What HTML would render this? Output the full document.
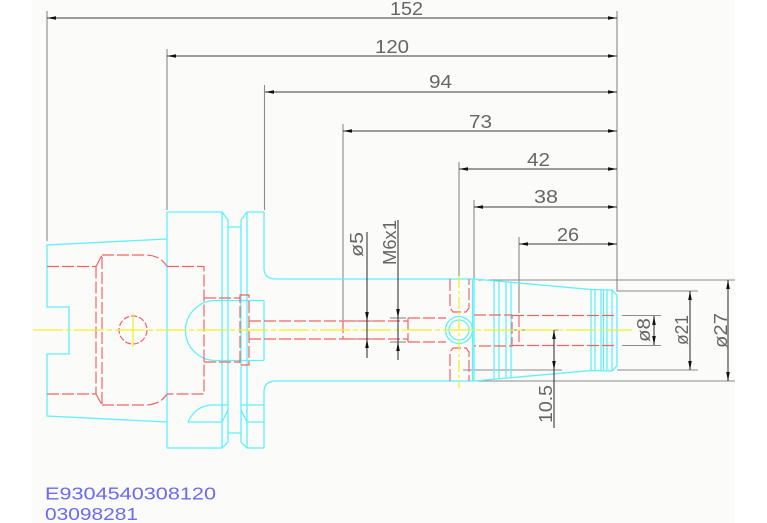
<!DOCTYPE html>
<html><head><meta charset="utf-8"><style>
html,body{margin:0;padding:0;background:#fff;}
svg{display:block;}
text{font-family:"Liberation Sans",sans-serif;}
</style></head><body>
<svg width="767" height="523" viewBox="0 0 767 523" xmlns="http://www.w3.org/2000/svg">
<rect x="0" y="0" width="767" height="523" fill="#ffffff"/>
<rect x="31" y="0" width="704" height="523" fill="#fbfcfa"/>

<!-- extension lines -->
<g stroke="#8a8a8a" stroke-width="1.1" fill="none">
  <path d="M47,11 L47,241"/>
  <path d="M167,49 L167,210"/>
  <path d="M264.5,85 L264.5,210"/>
  <path d="M343,124 L343,320"/>
  <path d="M459,162 L459,276"/>
  <path d="M474,200 L474,279"/>
  <path d="M519,237 L519,313"/>
  <path d="M617,11 L617,291 L698,291"/>
  <path d="M617,370 L698,370"/>
  <path d="M478,280 L735,280"/>
  <path d="M478,381 L735,381"/>
  <path d="M622,315.5 L661,315.5"/>
  <path d="M622,345.5 L661,345.5"/>
  <path d="M463,370 L562,370"/>
  <path d="M490,330 L562,330"/>
  <path d="M350,321 L373,321"/>
  <path d="M350,339 L373,339"/>
  <path d="M390,318 L406,318"/>
  <path d="M390,342 L406,342"/>
</g>

<!-- cyan outline -->
<g stroke="#5ff0fa" stroke-width="1.3" fill="none" stroke-linejoin="miter">
  <path d="M167,239 L47,245 L47,307 L69,307 L69,354 L47,354 L47,416 L167,422"/>
  <path d="M167,212 L167,448"/>
  <path d="M167,212 L222,212 L228,220"/>
  <path d="M167,448 L222,448 L228,442"/>
  <path d="M222,212 L222,448"/>
  <path d="M228,220 L228,442"/>
  <path d="M228,227 L241,227"/>
  <path d="M228,433 L241,433"/>
  <path d="M241,220 L247,212 L264,212"/>
  <path d="M241,442 L247,448 L264,448"/>
  <path d="M241,220 L241,442"/>
  <path d="M247,212 L247,448"/>
  <path d="M264,212 L264,268 Q264,279 276,279 L474,279"/>
  <path d="M264,448 L264,392 Q264,381 276,381 L474,381"/>
  <path d="M264,300.5 L264,360.5"/>
  <path d="M264,300.5 L215.5,300.5 A30,30 0 0 0 215.5,360.5 L264,360.5"/>
  <path d="M188,422 Q196,405 213,405 L228,405"/>
  <path d="M188,422 L222,422"/>
  <path d="M222,422 L228,410"/>
  <path d="M241,405 L264,405"/>
  <path d="M241,410 L247,422 L264,422"/>
  <path d="M474,279 L474,381"/>
  <path d="M472.5,279 L472.5,381"/>
  <path d="M474,279 L591,289.5 L612,290 L617,295 L617,366 L612,371 L591,370.5 L474,381"/>
  <path d="M494,280.8 L494,379.2"/>
  <path d="M499,281.2 L499,378.8"/>
  <path d="M506,281.9 L506,378.1"/>
  <path d="M511,282.3 L511,377.7"/>
  <path d="M591,289.5 L591,370.5"/>
  <path d="M595,289.6 L595,370.4"/>
  <path d="M601,289.7 L601,370.3"/>
  <path d="M603.5,289.8 L603.5,370.2"/>
  <path d="M607,289.9 L607,370.1"/>
  <path d="M612,290 L612,371"/>
  <circle cx="459" cy="330" r="13.5"/>
  <circle cx="459" cy="330" r="10"/>
</g>

<!-- red hidden lines -->
<g stroke="#f26464" stroke-width="1.2" fill="none" stroke-dasharray="12 3">
  <path d="M47,266.5 L96,266.5"/>
  <path d="M47,394 L96,394"/>
  <path d="M96,266.5 L96,394"/>
  <path d="M96,266.5 L102,255 L102,405 L96,394"/>
  <path d="M102,255 L145,255 Q160,255 167,266.5"/>
  <path d="M102,405 L145,405 Q160,405 167,394"/>
  <path d="M167,266.5 L204,266.5 L204,394 L167,394"/>
  <path d="M204,298 L240,298"/>
  <path d="M204,362 L240,362"/>
  <path d="M240,295 L249,295 L249,365 L240,365 Z"/>
  <path d="M249,321 L343,321"/>
  <path d="M249,339 L343,339"/>
  <path d="M343,321 L343,339"/>
  <path d="M343,321 L408,321"/>
  <path d="M343,339 L408,339"/>
  <path d="M408,318 L446,318 M408,342 L446,342 M408,318 L408,342"/>
  <path d="M450,279 L450,308 L453,312 L466,312 L469,308 L469,279"/>
  <path d="M450,381 L450,352 L453,348 L466,348 L469,352 L469,381"/>
  <path d="M474,315 L512,315 L512,346 L474,346"/>
  <path d="M519,315 L519,346"/>
  <path d="M512,315.5 L617,315.5"/>
  <path d="M512,345.5 L617,345.5"/>
</g>
<circle cx="133" cy="330" r="14" stroke="#f26464" stroke-width="1.2" fill="none" stroke-dasharray="6 2"/>

<!-- yellow center lines -->
<g stroke="#f2f01e" stroke-width="1.2" fill="none">
  <path d="M33,330 L632,330" stroke-dasharray="30 3 5 3"/>
  <path d="M459,276 L459,388" stroke-dasharray="12 3 3 3"/>
  <path d="M133,314 L133,347"/>
</g>

<!-- dimension lines -->
<g stroke="#3a3a3a" stroke-width="1.1" fill="none">
  <path d="M47,18 L617,18"/>
  <path d="M167,56 L617,56"/>
  <path d="M265,92 L617,92"/>
  <path d="M343,131 L617,131"/>
  <path d="M459,169 L617,169"/>
  <path d="M474,207 L617,207"/>
  <path d="M519,244 L617,244"/>
  <path d="M367,232 L367,358"/>
  <path d="M398,220 L398,360"/>
  <path d="M654,316 L654,345"/>
  <path d="M690,291 L690,370"/>
  <path d="M728,280 L728,381"/>
  <path d="M554,330 L554,428"/>
</g>
<g fill="#111">
  <polygon points="47,18 56,16.2 56,19.8"/><polygon points="617,18 608,16.2 608,19.8"/>
  <polygon points="167,56 176,54.2 176,57.8"/><polygon points="617,56 608,54.2 608,57.8"/>
  <polygon points="265,92 274,90.2 274,93.8"/><polygon points="617,92 608,90.2 608,93.8"/>
  <polygon points="343,131 352,129.2 352,132.8"/><polygon points="617,131 608,129.2 608,132.8"/>
  <polygon points="459,169 468,167.2 468,170.8"/><polygon points="617,169 608,167.2 608,170.8"/>
  <polygon points="474,207 483,205.2 483,208.8"/><polygon points="617,207 608,205.2 608,208.8"/>
  <polygon points="519,244 528,242.2 528,245.8"/><polygon points="617,244 608,242.2 608,245.8"/>
  <polygon points="367,321 365.2,312 368.8,312"/><polygon points="367,339 365.2,348 368.8,348"/>
  <polygon points="398,318 396.2,309 399.8,309"/><polygon points="398,342 396.2,351 399.8,351"/>
  <polygon points="654,316 652.2,325 655.8,325"/><polygon points="654,345 652.2,336 655.8,336"/>
  <polygon points="690,291 688.2,300 691.8,300"/><polygon points="690,370 688.2,361 691.8,361"/>
  <polygon points="728,280 726.2,289 729.8,289"/><polygon points="728,381 726.2,372 729.8,372"/>
  <polygon points="554,330 552.2,339 555.8,339"/><polygon points="554,370 552.2,361 555.8,361"/>
</g>

<!-- dimension text -->
<g fill="#666" font-size="18.5" text-anchor="middle">
  <text x="406.5" y="15" textLength="33" lengthAdjust="spacingAndGlyphs">152</text>
  <text x="392" y="53" textLength="34" lengthAdjust="spacingAndGlyphs">120</text>
  <text x="440.5" y="88" textLength="23" lengthAdjust="spacingAndGlyphs">94</text>
  <text x="480.5" y="128" textLength="23" lengthAdjust="spacingAndGlyphs">73</text>
  <text x="538.5" y="166" textLength="23" lengthAdjust="spacingAndGlyphs">42</text>
  <text x="546" y="203" textLength="24" lengthAdjust="spacingAndGlyphs">38</text>
  <text x="568" y="241" textLength="22" lengthAdjust="spacingAndGlyphs">26</text>
  <text transform="translate(363,244.5) rotate(-90)" textLength="25" lengthAdjust="spacingAndGlyphs">ø5</text>
  <text transform="translate(396,242.5) rotate(-90)" textLength="45" lengthAdjust="spacingAndGlyphs">M6x1</text>
  <text transform="translate(650,330) rotate(-90)" textLength="24" lengthAdjust="spacingAndGlyphs">ø8</text>
  <text transform="translate(688,330) rotate(-90)" textLength="30" lengthAdjust="spacingAndGlyphs">ø21</text>
  <text transform="translate(727,330.5) rotate(-90)" textLength="35" lengthAdjust="spacingAndGlyphs">ø27</text>
  <text transform="translate(552,404) rotate(-90)" textLength="38" lengthAdjust="spacingAndGlyphs">10.5</text>
</g>

<!-- part number -->
<g fill="#6a6af2" font-size="17.5">
  <text x="45" y="499.5" textLength="171" lengthAdjust="spacingAndGlyphs">E9304540308120</text>
  <text x="45" y="520" textLength="93" lengthAdjust="spacingAndGlyphs">03098281</text>
</g>
</svg>
</body></html>
